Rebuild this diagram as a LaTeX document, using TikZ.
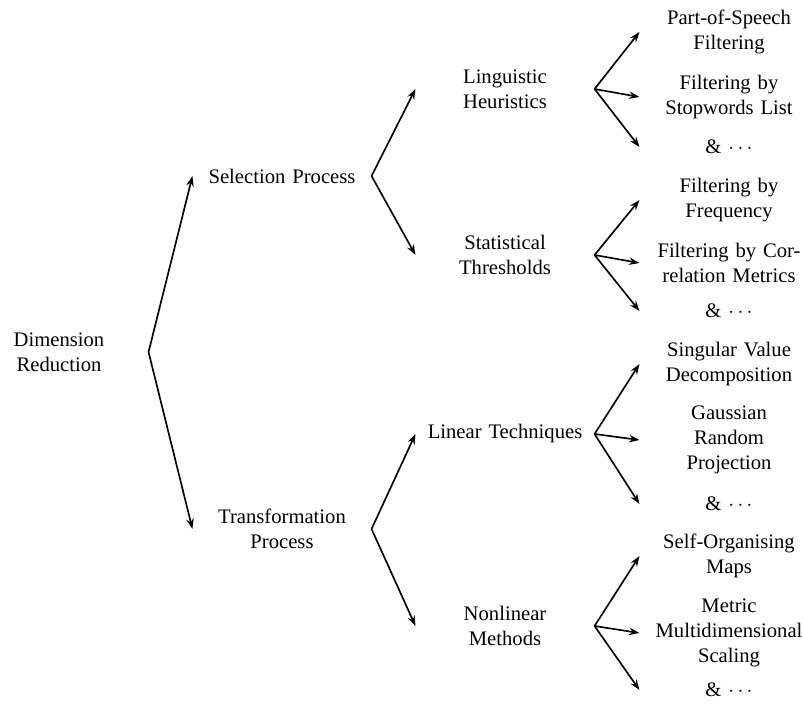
\documentclass[tikz,border=0pt]{standalone}
\usepackage{fontspec}
\setmainfont{Liberation Serif}
\usetikzlibrary{arrows.meta}
\begin{document}
\begin{tikzpicture}[x=0.4843pt,y=-0.4843pt,
  box/.style={text width=2.8cm, align=center, inner sep=0.3333em, font=\fontsize{10}{12}\selectfont},
  link/.style={-{Stealth[length=5pt,width=3.6pt]}, line width=0.8pt}]
\useasboundingbox (0,0) rectangle (803,708);
% level 0
\node[box] (root) at (59,352) {Dimension\\Reduction};
% level 1
\node[box] (sel) at (282,176) {Selection Process};
\node[box] (tra) at (282,529) {Transformation\\Process};
% level 2
\node[box] (lin) at (505,89) {Linguistic\\Heuristics};
\node[box] (sta) at (505,255) {Statistical\\Thresholds};
\node[box] (ltq) at (505,434) {Linear Techniques};
\node[box] (nlm) at (505,626) {Nonlinear\\Methods};
% level 3
\node[box] (a1) at (729,32) {Part-of-Speech\\Filtering};
\node[box] (a2) at (729,97) {Filtering by\\Stopwords List};
\node[box] (a3) at (729,147) {\& $\cdots$};
\node[box] (b1) at (729,200) {Filtering by\\Frequency};
\node[box] (b2) at (729,263) {Filtering by Cor-\\relation Metrics};
\node[box] (b3) at (729,311) {\& $\cdots$};
\node[box] (c1) at (729,364) {Singular Value\\Decomposition};
\node[box] (c2) at (729,440) {Gaussian\\Random\\Projection};
\node[box] (c3) at (729,504) {\& $\cdots$};
\node[box] (d1) at (729,556) {Self-Organising\\Maps};
\node[box] (d2) at (729,633) {Metric\\Multidimensional\\Scaling};
\node[box] (d3) at (729,690) {\& $\cdots$};
% edges
\draw[link] (root.east) -- (sel.west);
\draw[link] (root.east) -- (tra.west);
\draw[link] (sel.east) -- (lin.west);
\draw[link] (sel.east) -- (sta.west);
\draw[link] (tra.east) -- (ltq.west);
\draw[link] (tra.east) -- (nlm.west);
\foreach \p/\c in {lin/a1,lin/a2,lin/a3,sta/b1,sta/b2,sta/b3,ltq/c1,ltq/c2,ltq/c3,nlm/d1,nlm/d2,nlm/d3}
  \draw[link] (\p.east) -- (\c.west);
\end{tikzpicture}
\end{document}
